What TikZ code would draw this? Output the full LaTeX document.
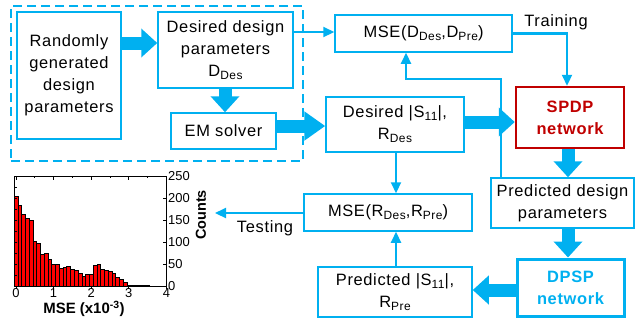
\documentclass[tikz,border=0pt]{standalone}
\usepackage{fontspec}
\setmainfont{Liberation Sans}
\newfontfamily\boxfont[LetterSpace=4]{Liberation Sans}
\usetikzlibrary{arrows.meta}
\definecolor{cy}{RGB}{0,176,240}
\definecolor{dred}{RGB}{192,0,0}
\newcommand\lowsub[1]{\raisebox{-0.35ex}{\fontsize{12}{12}\selectfont #1}}
\newcommand\bxfs{\boxfont\fontsize{16.5}{22}\selectfont}
\begin{document}
\begin{tikzpicture}[x=1bp,y=-1bp,
  box/.style={draw=cy, line width=1.5bp, align=center, inner sep=0pt, font=\bxfs, text=black},
  blockarr/.style={draw=cy, line width=13bp, -{Triangle[length=16bp,width=28bp]}},
  tarr/.style={draw=cy, line width=2.2bp, -{Triangle[length=11bp,width=10bp]}},
  lbl/.style={font=\bxfs, inner sep=0pt},
  tick/.style={font=\fontsize{13}{13}\selectfont, inner sep=1.5bp}]
\useasboundingbox (0,0) rectangle (638,322);

% group box
\node[draw=cy, line width=2.2bp, dash pattern=on 9bp off 5bp, minimum width=292bp, minimum height=155bp, inner sep=0pt] (grp) at (157,83.5) {};

% nodes
\node[box, minimum width=104bp, minimum height=127bp] (rand) at (69,75.5) {Randomly\\generated\\design\\parameters};
\node[box, minimum width=135bp, minimum height=76bp] (ddes) at (225.5,50) {Desired design\\parameters\\D\lowsub{Des}};
\node[box, minimum width=105bp, minimum height=36bp] (em) at (223.5,131) {EM solver};
\node[box, minimum width=177bp, minimum height=37bp] (mseD) at (423.5,33.5) {MSE(D\lowsub{Des},D\lowsub{Pre})};
\node[box, minimum width=138bp, minimum height=55bp] (ds11) at (395,124.5) {Desired |S\lowsub{11}|,\\R\lowsub{Des}};
\node[box, draw=dred, line width=2.5bp, minimum width=108bp, minimum height=61bp, text=dred, font=\bxfs\bfseries] (spdp) at (570,117.5) {SPDP\\network};
\node[box, minimum width=143bp, minimum height=50bp] (pdp) at (562.5,203) {Predicted design\\parameters};
\node[box, line width=3bp, minimum width=107bp, minimum height=57bp, text=cy, font=\bxfs\bfseries] (dpsp) at (570.5,287.5) {DPSP\\network};
\node[box, minimum width=154bp, minimum height=50bp] (ps11) at (395,292) {Predicted |S\lowsub{11}|,\\R\lowsub{Pre}};
\node[box, minimum width=168bp, minimum height=37bp] (mseR) at (388,212.5) {MSE(R\lowsub{Des},R\lowsub{Pre})};

% helper coordinates
\coordinate (cA) at (0,43);
\coordinate (cB) at (0,126);
\coordinate (cC) at (0,122);
\coordinate (cD) at (568,0);
\coordinate (cE) at (0,290);
\coordinate (cF) at (0,32);
\coordinate (cG) at (567,0);
\coordinate (cH) at (501,79);
\coordinate (cI) at (406,0);
\coordinate (cJ) at (396,0);
\coordinate (cK) at (0,213);
\coordinate (cL) at (225,0);
\coordinate (testend) at (215,213);

% thin connectors (drawn first so block arrows cover them)
\draw[tarr] (ddes.east |- cF) -- (mseD.west |- cF);
\draw[tarr, line join=miter] (mseD.east) -| (spdp.north -| cG);
\draw[tarr, line join=miter] (pdp.north -| cH) -- (cH) -- (cH -| cI) -- (mseD.south -| cI);
\draw[tarr] (ds11.south -| cJ) -- (mseR.north -| cJ);
\draw[tarr] (ps11.north -| cJ) -- (mseR.south -| cJ);
\draw[tarr] (mseR.west |- cK) -- (testend);

% block arrows
\draw[blockarr] (rand.east |- cA) -- (ddes.west |- cA);
\draw[blockarr] (ddes.south -| cL) -- (em.north -| cL);
\draw[blockarr, -{Triangle[length=21bp,width=28bp]}] (em.east |- cB) -- (ds11.west |- cB);
\draw[blockarr] (ds11.east |- cC) -- (spdp.west |- cC);
\draw[blockarr] (spdp.south -| cD) -- (pdp.north -| cD);
\draw[blockarr] (pdp.south -| cD) -- (dpsp.north -| cD);
\draw[blockarr] (dpsp.west |- cE) -- (ps11.east |- cE);

% labels
\node[lbl] (train) at (556,22) {Training};
\node[lbl] (test) at (265,228) {Testing};

% histogram
\begin{scope}[shift={(16,286)}, x=37.6bp, y=0.44bp]
  \foreach \c [count=\i from 0] in {204,184,163,155,149,102,96,73,75,61,50,50,40,42,44,39,36,29,23,27,26,47,49,38,36,34,28,19,15,8,2,2,1,1,1,1}{
    \fill[red, draw=black, line width=0.6bp] ({\i*0.1-0.05},0) rectangle ({\i*0.1+0.05},\c);
  }
  \draw[line width=0.8bp] (-0.05,0) rectangle (4,250);
  \foreach \v in {0,1,2,3,4}{
    \draw[line width=0.8bp] (\v,0) -- (\v,-6);
    \draw[line width=0.8bp] (\v,250) -- (\v,241);
    \node[tick, anchor=north] at (\v,-2) {\v};
  }
  \foreach \v in {0.5,1.5,2.5,3.5}{
    \draw[line width=0.8bp] (\v,250) -- (\v,245);
  }
  \foreach \v in {0,25,...,250}{
    \draw[line width=0.8bp] (-0.05,\v) -- (0.03,\v);
  }
  \foreach \v in {0,50,...,250}{
    \draw[line width=0.8bp] (4,\v) -- (3.92,\v);
    \node[tick, anchor=west] at (4,\v) {\v};
  }
\end{scope}
\node[font=\fontsize{15}{15}\selectfont\bfseries, inner sep=0pt] (xlab) at (84,309) {MSE (x10\textsuperscript{-3})};
\node[font=\fontsize{14.5}{14.5}\selectfont\bfseries, rotate=90, inner sep=0pt] (ylab) at (201,215) {Counts};
\end{tikzpicture}
\end{document}
